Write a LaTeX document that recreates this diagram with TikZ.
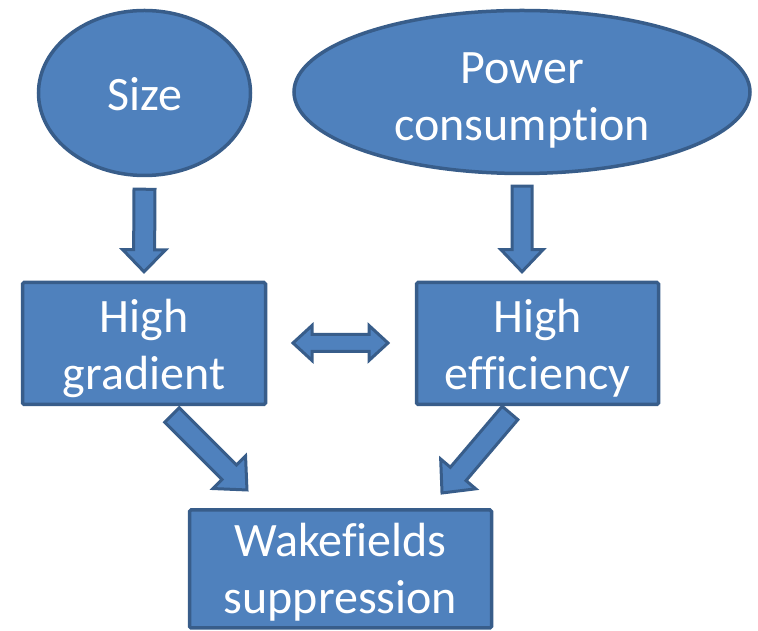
\documentclass[tikz,border=0pt]{standalone}
\usepackage{fontspec}
\setmainfont{Carlito}[Ligatures=NoCommon]
\usetikzlibrary{shapes.geometric,calc}
\definecolor{boxfill}{HTML}{4F81BD}
\definecolor{boxline}{HTML}{385D8A}
% text block moved down by #1 (half of the extra height), width #2
\newcommand\txtblk[3]{\raisebox{0pt}[\dimexpr\height+#1\relax][\depth]{\parbox{#2}{\centering #3}}}
\newcommand\blkarrow[5]{% from, to, shaft half width, head half width, head length
  \draw[blkarr] let \p1=(#1), \p2=(#2), \n1={atan2(\y2-\y1,\x2-\x1)}, \n2={veclen(\x2-\x1,\y2-\y1)} in
    [shift={(\p1)}, rotate=\n1]
    (0,-#3) -- (\n2-#5,-#3) -- (\n2-#5,-#4) -- (\n2,0) -- (\n2-#5,#4) -- (\n2-#5,#3) -- (0,#3) -- cycle;}
\newcommand\dblarrow[5]{%
  \draw[blkarr] let \p1=(#1), \p2=(#2), \n1={atan2(\y2-\y1,\x2-\x1)}, \n2={veclen(\x2-\x1,\y2-\y1)} in
    [shift={(\p1)}, rotate=\n1]
    (0,0) -- (#5,#4) -- (#5,#3) -- (\n2-#5,#3) -- (\n2-#5,#4) -- (\n2,0) -- (\n2-#5,-#4) -- (\n2-#5,-#3) -- (#5,-#3) -- (#5,-#4) -- cycle;}
\begin{document}
\begin{tikzpicture}[x=1pt,y=1pt,
  every node/.style={text=white, font=\fontsize{48}{57}\selectfont, inner sep=0pt},
  oval/.style={ellipse, draw=boxline, fill=boxfill, line width=3.5pt},
  rbox/.style={rectangle, draw=boxline, fill=boxfill, line width=3.5pt, rounded corners=1.5pt},
  blkarr/.style={draw=boxline, fill=boxfill, line width=3pt, line join=miter}]
\useasboundingbox (0,0) rectangle (758,631);
\node[oval, minimum width=212pt, minimum height=165pt] (size) at (144.5,538) {\txtblk{2pt}{90pt}{Size}};
\node[oval, minimum width=456pt, minimum height=163pt] (power) at (522,539) {\txtblk{16pt}{270pt}{Power\\consumption}};
\node[rbox, minimum width=243pt, minimum height=122pt] (grad) at (144,287.5) {\txtblk{9pt}{225pt}{High\\gradient}};
\node[rbox, minimum width=242pt, minimum height=122pt] (eff) at (537.5,287.5) {\txtblk{9pt}{225pt}{High\\efficiency}};
\node[rbox, minimum width=302pt, minimum height=118pt] (wake) at (340.5,62) {\txtblk{6pt}{285pt}{Wakefields\\suppression}};
% connector end points
\coordinate (s1) at ($(size.south)+(0,-12)$);
\coordinate (s2) at ($(grad.north)+(0,9)$);
\coordinate (p1) at ($(power.south)+(0,-11)$);
\coordinate (p2) at ($(eff.north)+(-15.5,9)$);
\coordinate (d1) at (293,288);
\coordinate (d2) at (388,288);
\coordinate (g1) at (172,216);
\coordinate (g2) at (247,141);
\coordinate (e1) at (510,218);
\coordinate (e2) at (442,138);
\blkarrow{s1}{s2}{10.5}{21.5}{22}
\blkarrow{p1}{p2}{10}{21}{22}
\dblarrow{d1}{d2}{8.5}{17.5}{19}
\blkarrow{g1}{g2}{10.3}{23}{25}
\blkarrow{e1}{e2}{10.3}{23}{25}
\end{tikzpicture}
\end{document}
